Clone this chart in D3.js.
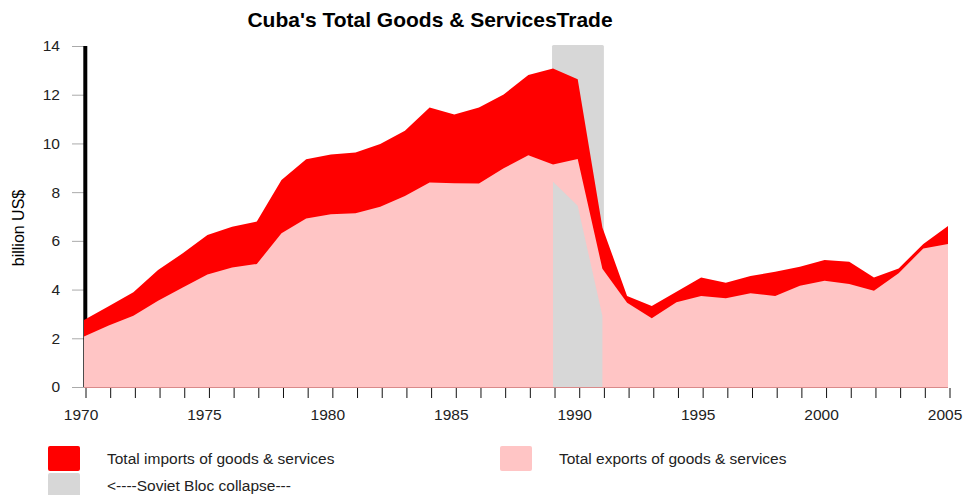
<!DOCTYPE html>
<html>
<head>
<meta charset="utf-8">
<script src="https://cdn.jsdelivr.net/npm/d3@7"></script>
<style>
  body { margin: 0; background: #fff; }
  text { font-family: "Liberation Sans", Arial, sans-serif; }
</style>
</head>
<body>
<div id="chart"></div>
<script>
// years on the x axis
var years = [1970, 1971, 1972, 1973, 1974, 1975, 1976, 1977, 1978, 1979,
             1980, 1981, 1982, 1983, 1984, 1985, 1986, 1987, 1988, 1989,
             1990, 1991, 1992, 1993, 1994, 1995, 1996, 1997, 1998, 1999,
             2000, 2001, 2002, 2003, 2004, 2005];

// billion US$
var imports = [2.75, 3.32, 3.89, 4.80, 5.49, 6.24, 6.58, 6.79, 8.50, 9.35,
               9.55, 9.63, 9.98, 10.52, 11.47, 11.19, 11.48, 12.01, 12.81, 13.08,
               12.63, 6.55, 3.74, 3.33, 3.91, 4.50, 4.28, 4.56, 4.73, 4.94,
               5.21, 5.14, 4.50, 4.87, 5.87, 6.61];

var exports = [2.07, 2.52, 2.93, 3.54, 4.08, 4.62, 4.91, 5.05, 6.31, 6.92,
               7.09, 7.13, 7.40, 7.84, 8.40, 8.37, 8.35, 8.98, 9.51, 9.14,
               9.36, 4.85, 3.46, 2.82, 3.48, 3.74, 3.64, 3.85, 3.74, 4.16,
               4.36, 4.23, 3.95, 4.67, 5.69, 5.87];

// Soviet bloc collapse band
var collapseYears = [1989, 1990, 1991];
var collapseLow = [8.43, 7.44, 2.91];
var collapseTop = 14;

var yTicks = [0, 2, 4, 6, 8, 10, 12, 14];
var xLabels = [1970, 1975, 1980, 1985, 1990, 1995, 2000, 2005];

var width = 963,
    height = 495;

var svg = d3.select("#chart").append("svg")
    .attr("width", width)
    .attr("height", height);

var x = d3.scaleLinear().domain([1970, 2005]).range([84, 948]);
var y = d3.scaleLinear().domain([0, 14]).range([387, 46]);

// title
svg.append("text")
    .attr("x", 430)
    .attr("y", 27)
    .attr("text-anchor", "middle")
    .style("font-size", "21px")
    .style("font-weight", "bold")
    .text("Cuba's Total Goods & ServicesTrade");

// y axis label
svg.append("text")
    .attr("transform", "translate(24,228) rotate(-90)")
    .attr("text-anchor", "middle")
    .style("font-size", "16px")
    .text("billion US$");

// y axis ticks
var yAxis = svg.append("g")
    .attr("transform", "translate(84,0)")
    .call(d3.axisLeft(y).tickValues(yTicks).tickSize(12).tickPadding(12));
yAxis.select(".domain").remove();
yAxis.selectAll("line").attr("stroke", "#aaa");
yAxis.selectAll("text").style("font-size", "15.5px").attr("fill", "#222").style("font-family", null);

// thick axis line (sits under the areas)
svg.append("line")
    .attr("x1", 85.3).attr("x2", 85.3)
    .attr("y1", y(14)).attr("y2", y(0))
    .attr("stroke", "#000")
    .attr("stroke-width", 4);

// collapse band behind
svg.append("rect")
    .attr("x", x(collapseYears[0]) - 1)
    .attr("y", y(collapseTop) - 1)
    .attr("width", x(collapseYears[2]) - x(collapseYears[0]) + 2.5)
    .attr("height", y(0) - y(collapseTop) + 1)
    .attr("rx", 1.5)
    .attr("fill", "#d7d7d7");

var area = function(vals, xs) {
    return d3.area()
        .x(function(d, i) { return x(xs[i]); })
        .y0(y(0))
        .y1(function(d) { return y(d); })(vals);
};

svg.append("path")
    .attr("d", area(imports, years))
    .attr("fill", "#ff0000");

svg.append("path")
    .attr("d", area(exports, years))
    .attr("fill", "#ffc5c5");

svg.append("path")
    .attr("d", area(collapseLow, collapseYears))
    .attr("fill", "#d7d7d7");

// baseline
svg.append("line")
    .attr("x1", x(1970)).attr("x2", x(2005))
    .attr("y1", y(0) + 0.5).attr("y2", y(0) + 0.5)
    .attr("stroke", "#d98a8a");

// x axis
var xAxis = svg.append("g")
    .attr("transform", "translate(1.5," + (y(0) + 1) + ")")
    .call(d3.axisBottom(x)
        .tickValues(years)
        .tickSize(10)
        .tickPadding(11)
        .tickFormat(function(d) { return xLabels.indexOf(d) >= 0 ? d : ""; }));
xAxis.select(".domain").remove();
xAxis.selectAll("line").attr("stroke", "#111");
xAxis.selectAll("text").style("font-size", "15.5px").attr("fill", "#222").attr("dx", -5).style("font-family", null);

// legend
var legend = [
    {label: "Total imports of goods & services", color: "#ff0000", x: 48, y: 446},
    {label: "Total exports of goods & services", color: "#ffc5c5", x: 500, y: 446},
    {label: "<----Soviet Bloc collapse---", color: "#d7d7d7", x: 48, y: 473}
];

var lg = svg.selectAll(".legend")
    .data(legend)
    .enter().append("g")
    .attr("class", "legend");

lg.append("rect")
    .attr("x", function(d) { return d.x; })
    .attr("y", function(d) { return d.y; })
    .attr("width", 32)
    .attr("height", 25)
    .attr("rx", 2)
    .attr("fill", function(d) { return d.color; });

lg.append("text")
    .attr("x", function(d) { return d.x + 59; })
    .attr("y", function(d) { return d.y + 17.5; })
    .style("font-size", "15.5px")
    .attr("fill", "#222")
    .text(function(d) { return d.label; });
</script>
</body>
</html>
